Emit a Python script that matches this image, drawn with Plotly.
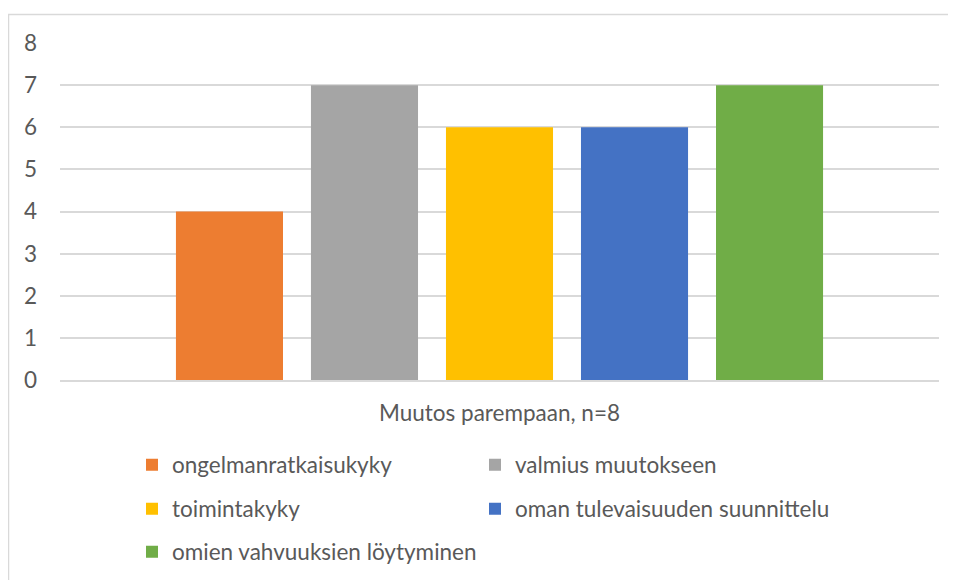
import plotly.graph_objects as go

categories = ["Muutos parempaan, n=8"]
series_names = ["ongelmanratkaisukyky", "valmius muutokseen", "toimintakyky",
                "oman tulevaisuuden suunnittelu", "omien vahvuuksien löytyminen"]
series_values = [4, 7, 6, 6, 7]
colors = ["#ED7D31", "#A5A5A5", "#FFC000", "#4472C4", "#70AD47"]
legend_ids = ["legend", "legend2", "legend3", "legend4", "legend5"]
y_ticks = [0, 1, 2, 3, 4, 5, 6, 7, 8]

FONT = "Lato"
TXT = "#595959"
FS = 22.5

fig = go.Figure()
for name, val, col, lg in zip(series_names, series_values, colors, legend_ids):
    fig.add_trace(go.Bar(x=categories, y=[val], name=name, marker_color=col,
                         marker_line_width=0, legend=lg))

OFF = 8  # page body margin
W, H = 956 - OFF, 580 - OFF
L = 60 - OFF
T = 43 - OFF
R = W - (939 - OFF)
B = H - (380 - OFF)
pw, ph = W - L - R, H - T - B

def px_x(p):  # page pixel -> paper x
    return (p - OFF - L) / pw

def px_y(p):  # page pixel -> paper y
    return (H - B - (p - OFF)) / ph

leg_common = dict(orientation="h", xanchor="left", yanchor="middle",
                  font=dict(family=FONT, size=FS, color=TXT),
                  bgcolor="rgba(0,0,0,0)", itemclick=False, itemdoubleclick=False)

col_x = [132, 132 + 343]
row_y = [466, 510, 553]
pos = [(0, 0), (1, 0), (0, 1), (1, 1), (0, 2)]
legends = {}
for lg, (c, r) in zip(legend_ids, pos):
    legends[lg] = dict(x=px_x(col_x[c]), y=px_y(row_y[r] - 1), **leg_common)

fig.update_layout(
    width=W, height=H,
    margin=dict(l=L, r=R, t=T, b=B, autoexpand=False),
    paper_bgcolor="white", plot_bgcolor="white",
    font=dict(family=FONT, size=FS, color=TXT),
    barmode="group", bargap=0.232, bargroupgap=0.207,
    showlegend=True,
    xaxis=dict(type="category", range=[-0.5, 0.5], showgrid=False,
               showline=True, linecolor="#d9d9d9", linewidth=1.5,
               ticks="", ticklabelstandoff=12,
               tickfont=dict(family=FONT, size=FS, color=TXT)),
    yaxis=dict(range=[0, 8], tickvals=y_ticks, showgrid=True,
               gridcolor="#d9d9d9", gridwidth=1.5, zeroline=False,
               showline=False, ticks="", ticklabelstandoff=22,
               tickfont=dict(family=FONT, size=FS, color=TXT)),
    shapes=[dict(type="rect", xref="paper", yref="paper",
                 x0=px_x(8.5), x1=px_x(990), y0=px_y(620), y1=px_y(14.5),
                 line=dict(color="#d9d9d9", width=1.5), fillcolor="rgba(0,0,0,0)",
                 layer="below")],
    **legends,
)

fig.write_html("out.html")
